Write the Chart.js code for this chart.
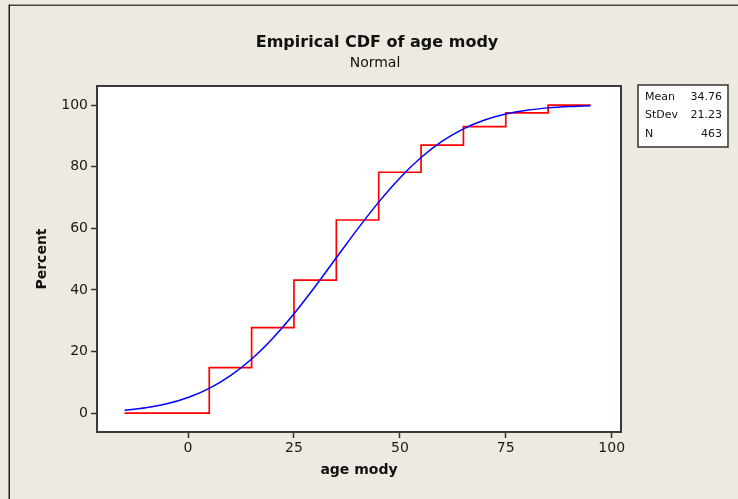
<!DOCTYPE html>
<html><head><meta charset="utf-8">
<script src="https://cdn.jsdelivr.net/npm/chart.js@4.4.0/dist/chart.umd.min.js"></script>
<style>html,body{margin:0;padding:0;background:#EEEAE1;overflow:hidden}#wrap{width:738px;height:499px;position:relative}canvas{display:block}</style>
</head><body><div id="wrap"><canvas id="c" width="738" height="499"></canvas></div>
<script>
// ---- data ----
const ecdfAge = [-15, 5, 15, 25, 35, 45, 55, 65, 75, 85, 95];
const ecdfPercent = [0, 14.8, 27.8, 43.2, 62.7, 78.2, 87.0, 93.0, 97.5, 100, 100];
const fitAge = [-15, -10, -5, 0, 5, 10, 15, 20, 25, 30, 35, 40, 45, 50, 55, 60, 65, 70, 75, 80, 85, 90, 95];
const fitPercent = [0.95, 1.75, 3.05, 5.08, 8.05, 12.18, 17.6, 24.35, 32.28, 41.13, 50.45, 59.75, 68.51, 76.36, 82.98, 88.28, 92.28, 95.15, 97.1, 98.35, 99.1, 99.54, 99.77];
const xTicks = [0, 25, 50, 75, 100];
const yTicks = [0, 20, 40, 60, 80, 100];
const statLabels = ['Mean', 'StDev', 'N'];
const statValues = ['34.76', '21.23', '463'];
const titleText = 'Empirical CDF of age mody';
const subtitleText = 'Normal';
const xTitleText = 'age mody';
const yTitleText = 'Percent';

const FONT = '"DejaVu Sans", Verdana, sans-serif';
const BG = '#EEEAE1';
const DARK = '#333333';

const decor = {
  id: 'decor',
  beforeDraw(chart) {
    const ctx = chart.ctx, a = chart.chartArea;
    ctx.save();
    ctx.fillStyle = BG;
    ctx.fillRect(0, 0, chart.width, chart.height);
    // outer frame (top and left edges visible)
    ctx.fillStyle = '#444';
    ctx.fillRect(9, 4.5, chart.width - 9, 1.5);
    ctx.fillStyle = '#222';
    ctx.fillRect(8.5, 4.5, 1.5, chart.height);
    // plot area
    ctx.fillStyle = '#FFFFFF';
    ctx.fillRect(a.left, a.top, a.right - a.left, a.bottom - a.top);
    ctx.restore();
  },
  afterDraw(chart) {
    const ctx = chart.ctx, a = chart.chartArea;
    ctx.save();
    ctx.strokeStyle = '#3a3a3a';
    ctx.lineWidth = 2;
    ctx.strokeRect(a.left, a.top, a.right - a.left, a.bottom - a.top);
    // titles
    ctx.fillStyle = '#111';
    ctx.textAlign = 'center';
    ctx.textBaseline = 'middle';
    ctx.font = 'bold 16px ' + FONT;
    ctx.fillText(titleText, 377, 43);
    ctx.font = '14px ' + FONT;
    ctx.fillText(subtitleText, 375, 63);
    // axis titles
    ctx.font = 'bold 14px ' + FONT;
    ctx.fillText(xTitleText, (a.left + a.right) / 2, 470);
    ctx.save();
    ctx.translate(42, (a.top + a.bottom) / 2);
    ctx.rotate(-Math.PI / 2);
    ctx.fillText(yTitleText, 0, 0);
    ctx.restore();
    // stats box
    const bx = 638, by = 85, bw = 90, bh = 62;
    ctx.fillStyle = '#FFFFFF';
    ctx.fillRect(bx, by, bw, bh);
    ctx.strokeStyle = '#333';
    ctx.lineWidth = 1.5;
    ctx.strokeRect(bx, by, bw, bh);
    ctx.fillStyle = '#111';
    ctx.font = '11px ' + FONT;
    ctx.textBaseline = 'middle';
    statLabels.forEach((s, i) => {
      const y = 97 + i * 18.5;
      ctx.textAlign = 'left';
      ctx.fillText(s, 645, y);
      ctx.textAlign = 'right';
      ctx.fillText(statValues[i], 722, y);
    });
    ctx.restore();
  }
};

const tickFont = { family: FONT, size: 14 };

new Chart(document.getElementById('c'), {
  type: 'scatter',
  data: {
    datasets: [
      {
        label: 'Normal fit',
        data: fitAge.map((x, i) => ({ x, y: fitPercent[i] })),
        showLine: true,
        borderColor: '#0000FF',
        borderWidth: 1.5,
        pointRadius: 0,
        cubicInterpolationMode: 'monotone',
        fill: false
      },
      {
        label: 'Empirical',
        data: ecdfAge.map((x, i) => ({ x, y: ecdfPercent[i] })),
        showLine: true,
        stepped: 'before',
        borderColor: '#FF0000',
        borderWidth: 1.7,
        pointRadius: 0,
        fill: false
      }
    ]
  },
  options: {
    responsive: false,
    devicePixelRatio: 1,
    animation: false,
    events: [],
    layout: { padding: { left: 0, top: 86, right: 117, bottom: 0 } },
    plugins: { legend: { display: false }, tooltip: { enabled: false }, title: { display: false } },
    scales: {
      x: {
        type: 'linear',
        min: -21.5,
        max: 102.2,
        afterBuildTicks: s => { s.ticks = xTicks.map(v => ({ value: v })); },
        afterFit: s => { s.height = 67; },
        grid: { drawOnChartArea: false, drawTicks: true, tickLength: 6, color: DARK, tickWidth: 1.5 },
        border: { display: false },
        ticks: { color: '#1a1a1a', font: tickFont, padding: 2, maxRotation: 0, autoSkip: false }
      },
      y: {
        type: 'linear',
        min: -6.1,
        max: 106.2,
        afterBuildTicks: s => { s.ticks = yTicks.map(v => ({ value: v })); },
        afterFit: s => { s.width = 97; },
        grid: { drawOnChartArea: false, drawTicks: true, tickLength: 6, color: DARK, tickWidth: 1.5 },
        border: { display: false },
        ticks: { color: '#1a1a1a', font: tickFont, padding: 3, autoSkip: false }
      }
    }
  },
  plugins: [decor]
});
</script>
</body></html>
